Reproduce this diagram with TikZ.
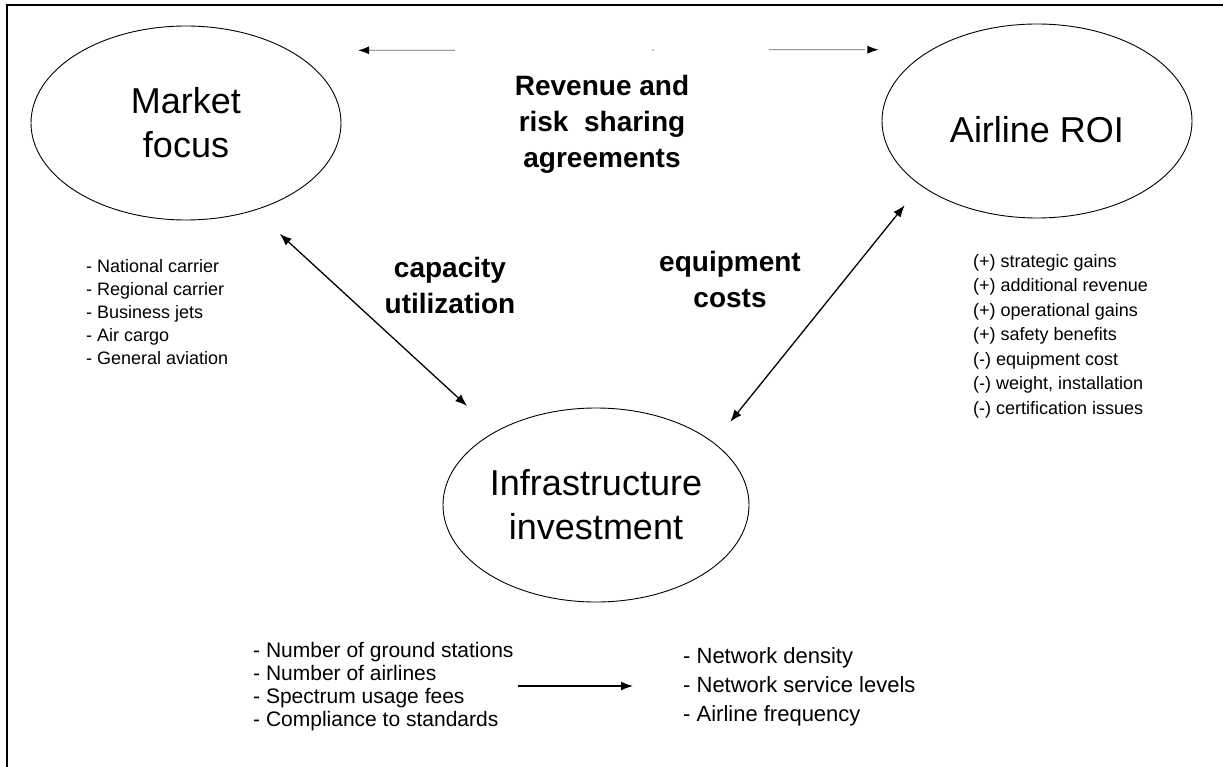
\documentclass[tikz,border=0pt]{standalone}
\usepackage{fontspec}
\setmainfont{Liberation Sans}
\usetikzlibrary{arrows.meta,shapes.geometric}
\begin{document}
\begin{tikzpicture}[x=1pt,y=-1pt,
  hub/.style={ellipse,draw,line width=0.9pt,minimum width=310pt,minimum height=194pt,
    inner sep=0pt,align=center,font=\fontsize{36}{44}\selectfont},
  link/.style={line width=1.3pt,{Latex[length=12pt,width=9pt]}-{Latex[length=12pt,width=9pt]}},
  faint/.style={line width=0.8pt,black!60,
    {Latex[length=11pt,width=8pt,color=black]}-{Latex[length=11pt,width=8pt,color=black]},
    dash pattern=on 86pt off 197pt on 2pt off 115pt on 96pt},
  tag/.style={align=center,inner sep=0pt,font=\bfseries\fontsize{28}{36}\selectfont},
  notes/.style={align=left,anchor=north west,inner sep=0pt,font=\fontsize{18}{23}\selectfont},
  midnotes/.style={align=left,anchor=north west,inner sep=0pt,font=\fontsize{21}{23}\selectfont},
  bignotes/.style={align=left,anchor=north west,inner sep=0pt,font=\fontsize{22}{29}\selectfont},
]
\useasboundingbox (0,0) rectangle (1223,767);

% frame
\draw[line width=1.8pt] (7,767) -- (7,5) -- (1223,5);

% the three hubs
\node[hub] (mf)  at (186,123) {Market\\focus};
\node[hub,text height=44pt,text depth=0pt] (roi) at (1037,121) {Airline ROI};
\node[hub,minimum width=306pt] (inf) at (596,505) {Infrastructure\\investment};

% relation labels
\node[tag] (rev) at (602,124) {Revenue and\\risk~ sharing\\agreements};
\node[tag] (cap) at (450,285) {capacity\\utilization};
\node[tag] (eqp) at (730,279) {equipment\\costs};

% connectors between hubs
\draw[faint, shorten <=68.5pt, shorten >=52.7pt] (mf.35.1) -- (roi.146.9);
\draw[link, shorten <=34.5pt, shorten >=37.9pt] (mf.-52.5) -- (inf.144.1);
\draw[link, shorten <=25.3pt, shorten >=26.5pt] (roi.209) -- (inf.28.2);

% factor lists
\node[notes] (segs) at (86,259) {- National carrier\\- Regional carrier\\- Business jets\\- Air cargo\\- General aviation};
\node[notes,font=\fontsize{18}{24.5}\selectfont] (gains) at (973,254) {(+) strategic gains\\(+) additional revenue\\(+) operational gains\\(+) safety benefits\\(-) equipment cost\\(-) weight, installation\\(-) certification issues};
\node[midnotes] (inputs) at (253,642) {- Number of ground stations\\- Number of airlines\\- Spectrum usage fees\\- Compliance to standards};
\node[bignotes] (outputs) at (683,647) {- Network density\\- Network service levels\\- Airline frequency};

\draw[line width=1.3pt,-{Latex[length=12pt,width=9pt]},shorten <=4pt,shorten >=50pt]
  (inputs.east |- 0,686) -- (outputs.west |- 0,686);
\end{tikzpicture}
\end{document}
